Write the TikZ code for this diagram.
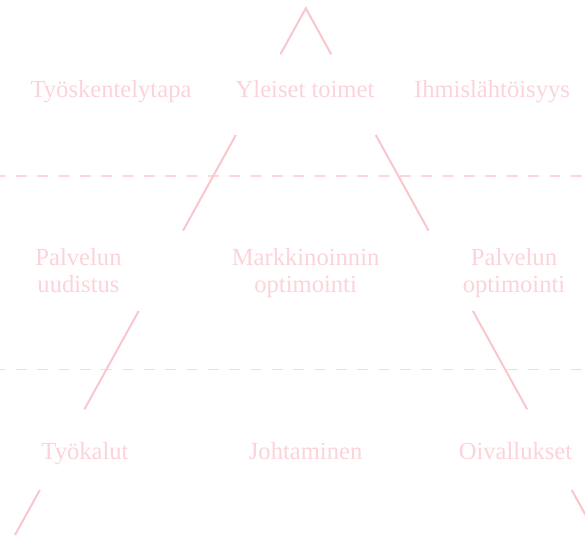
\documentclass[tikz,border=0pt]{standalone}
\usepackage{fontspec}
\setmainfont{Liberation Serif}
\definecolor{txt}{HTML}{FCD3D8}
\definecolor{ln}{HTML}{F9C6CD}
\definecolor{dsh}{HTML}{FBD6DB}
\begin{document}
\begin{tikzpicture}[x=1pt,y=-1pt,
  lab/.style={text=txt, font=\fontsize{24.6}{27.5}\selectfont, align=center, inner sep=0pt, anchor=base},
  edge/.style={draw=ln, line width=2pt},
  sep/.style={draw=dsh, line width=1.3pt, dash pattern=on 10.67pt off 10.67pt, dash phase=5.33pt}]
\useasboundingbox (0,0) rectangle (585,535);
\clip (0,0) rectangle (585,535);
% separators
\coordinate (s1a) at (0,176);   \coordinate (s1b) at (585,176);
\coordinate (s2a) at (0,369.3); \coordinate (s2b) at (585,369.3);
\draw[sep] (s1a) -- (s1b);
\draw[sep] (s2a) -- (s2b);
% labels (multi-line nodes: base = last line's baseline)
\node[lab] (tt) at (111,97) {Työskentelytapa};
\node[lab] (yt) at (305,97) {Yleiset toimet};
\node[lab] (ih) at (492,97) {Ihmislähtöisyys};
\node[lab] (pu) at (78.5,292.5) {Palvelun\\uudistus};
\node[lab] (mo) at (305.6,292.5) {Markkinoinnin\\optimointi};
\node[lab] (po) at (514,292.5) {Palvelun\\optimointi};
\node[lab] (ty) at (85,459) {Työkalut};
\node[lab] (jo) at (305.6,459) {Johtaminen};
\node[lab] (oi) at (515.5,459) {Oivallukset};
% line points
\coordinate (apex) at (305.8,8.3);
\coordinate (l1) at (280.4,54.3);  \coordinate (r1) at (331.2,54.3);
\coordinate (l2) at (235.85,135);  \coordinate (r2) at (375.75,135);
\coordinate (l3) at (183.0,230.7); \coordinate (r3) at (428.6,230.7);
\coordinate (l4) at (138.68,311);  \coordinate (r4) at (472.92,311);
\coordinate (l5) at (84.41,409.3); \coordinate (r5) at (527.19,409.3);
\coordinate (l6) at (39.86,490);   \coordinate (r6) at (571.74,490);
\coordinate (l7) at (15.0,535);    \coordinate (r7) at (596.6,535);
\draw[edge, line join=miter] (l1) -- (apex) -- (r1);
\draw[edge] (l2) -- (l3);
\draw[edge] (r2) -- (r3);
\draw[edge] (l4) -- (l5);
\draw[edge] (r4) -- (r5);
\draw[edge] (l6) -- (l7);
\draw[edge] (r6) -- (r7);
\end{tikzpicture}
\end{document}
